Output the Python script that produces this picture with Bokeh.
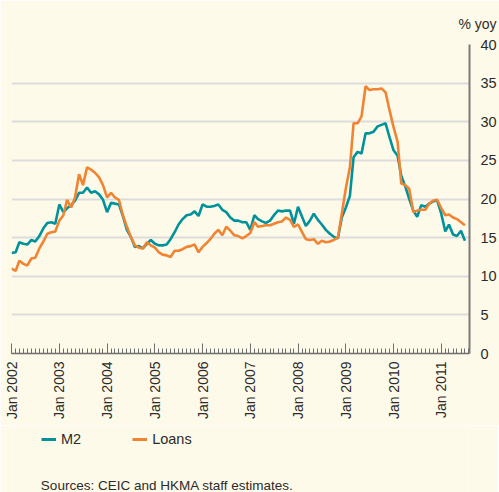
import math
import pandas as pd
from bokeh.plotting import figure
from bokeh.layouts import column
from bokeh.models import (FixedTicker, DatetimeTickFormatter, Legend, LegendItem,
                          Title, Label, Range1d, ColumnDataSource)
from bokeh.embed import file_html
from bokeh.resources import INLINE

# ---- data (monthly, % yoy), Jan 2002 .. Jul 2011 ----
start_month = "2002-01-01"
m2 = [13.0, 13.1, 14.4, 14.2, 14.1, 14.7, 14.5, 15.2, 16.2, 16.9, 17.0, 16.8,
      19.3, 18.3, 18.8, 19.2, 19.8, 20.8, 20.8, 21.5, 20.8, 21.0, 20.6, 19.9,
      18.3, 19.5, 19.4, 19.3, 17.8, 16.0, 15.1, 13.8, 13.9, 13.6, 14.2, 14.7,
      14.2, 14.0, 14.0, 14.1, 14.8, 15.7, 16.7, 17.4, 17.9, 18.0, 18.4, 17.8,
      19.3, 19.0, 19.0, 19.1, 19.3, 18.6, 18.3, 17.6, 17.2, 17.2, 17.0, 17.0,
      16.0, 17.9, 17.4, 17.1, 16.9, 17.2, 17.9, 18.5, 18.4, 18.5, 18.5, 16.8,
      19.0, 17.7, 16.5, 17.2, 18.1, 17.3, 16.7, 16.0, 15.5, 15.1, 14.9, 17.6,
      18.9, 20.4, 25.4, 26.1, 25.9, 28.5, 28.5, 28.7, 29.4, 29.6, 29.8, 28.0,
      26.3, 25.6, 23.0, 21.6, 20.0, 18.5, 17.7, 19.2, 19.0, 19.4, 19.7, 19.8,
      18.1, 15.8, 16.7, 15.4, 15.2, 15.9, 14.6]
loans = [11.0, 10.7, 12.0, 11.6, 11.4, 12.3, 12.4, 13.6, 14.5, 15.5, 15.7, 15.8,
         17.2, 17.9, 19.9, 18.9, 20.2, 23.2, 21.8, 24.1, 23.8, 23.4, 22.8, 21.8,
         20.2, 20.8, 20.2, 19.9, 17.9, 16.4, 15.1, 14.0, 13.7, 13.6, 14.4, 14.0,
         13.7, 13.1, 12.8, 12.7, 12.5, 13.3, 13.3, 13.5, 13.8, 13.9, 14.1, 13.1,
         13.8, 14.3, 14.8, 15.5, 16.0, 15.3, 16.4, 15.9, 15.3, 15.2, 14.9, 15.2,
         15.6, 17.0, 16.4, 16.5, 16.6, 16.6, 16.8, 17.0, 17.1, 17.6, 17.3, 16.4,
         16.7, 15.7, 14.8, 14.7, 14.8, 14.2, 14.6, 14.4, 14.5, 14.7, 15.0, 18.1,
         21.4, 24.1, 29.8, 29.8, 30.7, 34.6, 34.1, 34.2, 34.2, 34.3, 33.8, 31.5,
         29.3, 27.4, 22.0, 21.8, 21.3, 18.3, 18.5, 18.6, 18.6, 19.4, 19.8, 19.9,
         18.8, 17.9, 18.0, 17.6, 17.4, 17.0, 16.6]
series_names = ["M2", "Loans"]
y_ticks = [0, 5, 10, 15, 20, 25, 30, 35, 40]
grid_ticks = [5, 10, 15, 20, 25, 30, 35]
year_ticks = list(range(2002, 2012))

dates = pd.date_range(start_month, periods=len(m2), freq="MS")
src = ColumnDataSource(dict(date=dates, m2=m2, loans=loans))

TEAL = "#00929a"
ORANGE = "#f08432"
BG = "#fefae9"
TXT = "#2b2b2b"
FONT = "Liberation Sans"

x_start = pd.Timestamp("2001-12-31")
x_end = pd.Timestamp("2011-08-05")

# ---------------- main chart ----------------
p = figure(frame_width=458, frame_height=309, x_axis_type="datetime",
           y_axis_location="right",
           output_backend="svg", toolbar_location=None,
           background_fill_color=BG, border_fill_color=BG, outline_line_color=None,
           min_border_left=11, min_border_top=44, min_border_right=29,
           min_border_bottom=72)

p.x_range = Range1d(x_start, x_end)
p.y_range = Range1d(0, 40)

p.line("date", "m2", source=src, line_color=TEAL, line_width=2.6)
p.line("date", "loans", source=src, line_color=ORANGE, line_width=2.6)

major = [pd.Timestamp(f"{y}-01-01").value / 1e6 for y in year_ticks]
minor = [d.value / 1e6 for d in pd.date_range("2002-01-01", "2011-08-01", freq="MS")]
xa = p.xaxis[0]
xa.ticker = FixedTicker(ticks=major, minor_ticks=minor)
xa.formatter = DatetimeTickFormatter(years="%b %Y", months="%b %Y", days="%b %Y",
                                     hours="%b %Y", context=None)
xa.major_label_orientation = math.pi / 2
xa.major_tick_in = 10
xa.major_tick_out = 0
xa.minor_tick_in = 5
xa.minor_tick_out = 0
xa.axis_line_color = "#6e6e6e"
xa.major_tick_line_color = "#6e6e6e"
xa.minor_tick_line_color = "#6e6e6e"
xa.axis_line_width = 1.5
xa.major_label_text_font = FONT
xa.major_label_text_font_size = "14px"
xa.major_label_text_color = TXT
xa.major_label_standoff = 8

ya = p.yaxis[0]
ya.ticker = FixedTicker(ticks=y_ticks)
ya.major_tick_line_color = None
ya.minor_tick_line_color = None
ya.axis_line_color = "#7a7a7a"
ya.axis_line_width = 2
ya.major_label_text_font = FONT
ya.major_label_text_font_size = "14.5px"
ya.major_label_text_color = TXT
ya.major_label_standoff = 5

p.xgrid.visible = False
p.ygrid.ticker = FixedTicker(ticks=grid_ticks)
p.ygrid.grid_line_color = "#dcdcdc"
p.ygrid.grid_line_width = 2

p.add_layout(Title(text="% yoy", align="right", offset=-27, standoff=25,
                   text_font=FONT, text_font_size="14px", text_font_style="normal",
                   text_color=TXT), "above")

# ---------------- legend + source strip ----------------
H2 = 67
p2 = figure(width=498, height=H2, output_backend="svg", toolbar_location=None,
            x_range=Range1d(0, 498), y_range=Range1d(0, H2),
            background_fill_color=BG, border_fill_color=BG, outline_line_color=None,
            min_border=0)
p2.axis.visible = False
p2.grid.visible = False
# same series, drawn only so that the legend can show their line keys (outside view)
k1 = p2.line("date", "m2", source=src, line_color=TEAL, line_width=3)
k2 = p2.line("date", "loans", source=src, line_color=ORANGE, line_width=3)

legend = Legend(items=[LegendItem(label=series_names[0], renderers=[k1]),
                       LegendItem(label=series_names[1], renderers=[k2])],
                orientation="horizontal", location=(30, 43),
                background_fill_alpha=0, border_line_color=None,
                label_text_font=FONT, label_text_font_size="14.5px", label_text_color=TXT,
                label_text_baseline="middle",
                glyph_width=15, glyph_height=20, label_standoff=5, spacing=51,
                margin=0, padding=0)
p2.add_layout(legend)

p2.add_layout(Label(x=32, y=7, text="Sources: CEIC and HKMA staff estimates.",
                    text_font=FONT, text_font_size="13.5px", text_color=TXT,
                    text_align="left", text_baseline="middle"))

open("out.html", "w").write(file_html(column(p, p2, spacing=0), INLINE))
